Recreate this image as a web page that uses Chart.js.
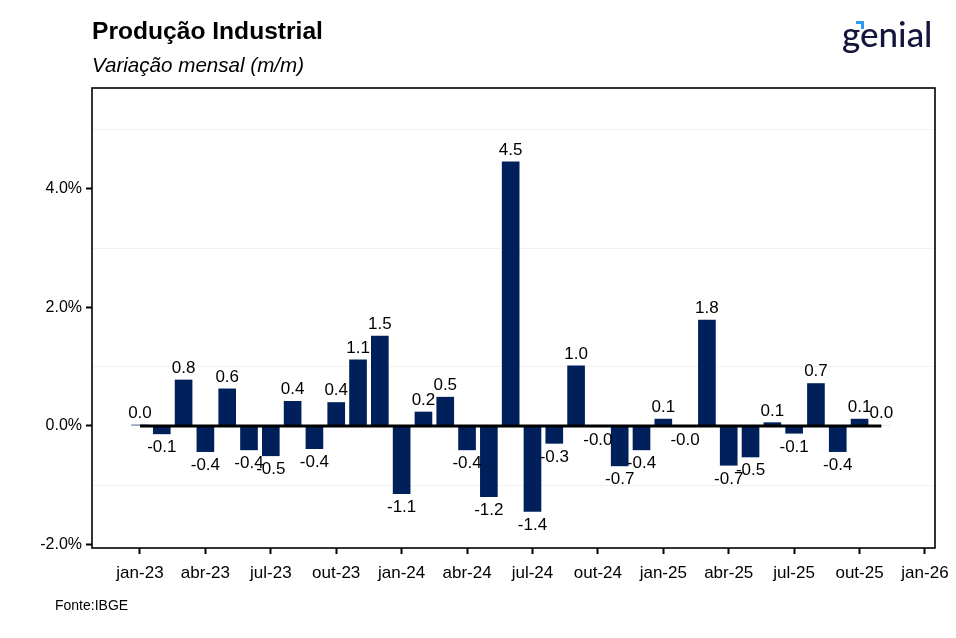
<!DOCTYPE html>
<html>
<head>
<meta charset="utf-8">
<script src="https://cdn.jsdelivr.net/npm/chart.js@4.4.1/dist/chart.umd.min.js"></script>
<style>
  body { margin: 0; background: #fff; }
  #wrap { position: relative; width: 956px; height: 638px; font-family: "Liberation Sans", Arial, sans-serif; }
  #chart { position: absolute; left: 0; top: 0; }
  .title { position: absolute; left: 92px; top: 17px; font-size: 24.6px; font-weight: bold; color: #000; }
  .subtitle { position: absolute; left: 92px; top: 53px; font-size: 20.6px; font-style: italic; color: #000; }
  .source { position: absolute; left: 55px; top: 597px; font-size: 14px; color: #000; }
  .logo { position: absolute; left: 842px; top: 12px; font-family: Lato, "Noto Sans", sans-serif; font-size: 35px; font-weight: 500; color: #14143c; }
  .accent { position: absolute; left: 856px; top: 21px; width: 5px; height: 5px; border-top: 3px solid #2b9cf2; border-right: 3px solid #2b9cf2; }
</style>
</head>
<body>
<div id="wrap">
  <canvas id="chart" width="956" height="638"></canvas>
  <div class="title">Produção Industrial</div>
  <div class="subtitle">Variação mensal (m/m)</div>
  <div class="source">Fonte:IBGE</div>
  <div class="logo">genial</div>
  <div class="accent"></div>
</div>
<script>
// DADOS
const months = ['jan-23', 'fev-23', 'mar-23', 'abr-23', 'mai-23', 'jun-23', 'jul-23', 'ago-23', 'set-23', 'out-23', 'nov-23', 'dez-23',
    'jan-24', 'fev-24', 'mar-24', 'abr-24', 'mai-24', 'jun-24', 'jul-24', 'ago-24', 'set-24', 'out-24', 'nov-24', 'dez-24',
    'jan-25', 'fev-25', 'mar-25', 'abr-25', 'mai-25', 'jun-25', 'jul-25', 'ago-25', 'set-25', 'out-25', 'nov-25'];
const values = [0.02, -0.14, 0.78, -0.44, 0.63, -0.41, -0.51, 0.42, -0.39, 0.40, 1.12, 1.52,
    -1.15, 0.24, 0.49, -0.41, -1.20, 4.46, -1.45, -0.30, 1.02, -0.02, -0.68, -0.41,
    0.12, -0.02, 1.79, -0.67, -0.53, 0.06, -0.13, 0.72, -0.44, 0.12, 0.01];
const tickLabels = ['jan-23', 'abr-23', 'jul-23', 'out-23', 'jan-24', 'abr-24', 'jul-24', 'out-24', 'jan-25', 'abr-25', 'jul-25', 'out-25', 'jan-26'];
const yTicks = [-2, -1, 0, 1, 2, 3, 4, 5];

const tickPos = tickLabels.map((t, i) => i * 3);

Chart.defaults.font.family = '"Liberation Sans", Arial, sans-serif';
Chart.defaults.color = '#000';

// rotulos das barras
const barLabels = {
    id: 'barLabels',
    afterDatasetsDraw(chart) {
        const ctx = chart.ctx;
        const meta = chart.getDatasetMeta(1);
        ctx.save();
        ctx.font = '17px "Liberation Sans", Arial, sans-serif';
        ctx.fillStyle = '#000';
        ctx.textAlign = 'center';
        meta.data.forEach((bar, i) => {
            const v = values[i];
            if (v >= 0) {
                ctx.textBaseline = 'bottom';
                ctx.fillText(v.toFixed(1), bar.x, bar.y - 3);
            } else {
                ctx.textBaseline = 'top';
                ctx.fillText(v.toFixed(1), bar.x, bar.y + 5);
            }
        });
        ctx.restore();
    }
};

// moldura do painel
const panelBorder = {
    id: 'panelBorder',
    afterDraw(chart) {
        const a = chart.chartArea;
        const ctx = chart.ctx;
        ctx.save();
        ctx.strokeStyle = '#000';
        ctx.lineWidth = 1.6;
        ctx.strokeRect(a.left, a.top, a.right - a.left, a.bottom - a.top);
        ctx.restore();
    }
};

const chart = new Chart(document.getElementById('chart'), {
    type: 'bar',
    data: {
        datasets: [{
            type: 'line',
            data: [{x: 0, y: 0}, {x: months.length - 1, y: 0}],
            borderColor: '#000',
            borderWidth: 3,
            pointRadius: 0,
            order: 1
        }, {
            type: 'bar',
            data: values.map((v, i) => ({x: i, y: v})),
            backgroundColor: '#00205b',
            barPercentage: 0.81,
            categoryPercentage: 1,
            order: 2
        }]
    },
    options: {
        responsive: false,
        animation: false,
        layout: { padding: { left: 0, right: 21, top: 88, bottom: 50 } },
        plugins: { legend: { display: false }, tooltip: { enabled: false } },
        scales: {
            x: {
                type: 'linear',
                offset: false,
                min: -2.2,
                max: 36.46,
                afterBuildTicks: (s) => { s.ticks = tickPos.map(v => ({value: v})); },
                afterFit: (s) => { s.height = 40; s.paddingRight = 0; s.paddingLeft = 0; },
                ticks: {
                    font: { size: 17 },
                    padding: 9,
                    maxRotation: 0,
                    autoSkip: false,
                    callback: (v) => tickLabels[tickPos.indexOf(v)]
                },
                grid: { offset: false, drawOnChartArea: false, tickColor: '#000', tickLength: 6, tickWidth: 2 },
                border: { display: false }
            },
            y: {
                min: -2.06,
                max: 5.7,
                afterBuildTicks: (s) => { s.ticks = yTicks.map(v => ({value: v})); },
                afterFit: (s) => { s.width = 92; },
                ticks: {
                    font: { size: 16 },
                    padding: 4,
                    callback: (v) => Math.abs(v) % 2 === 0 ? v.toFixed(1) + '%' : ''
                },
                grid: {
                    color: (c) => Math.abs(c.tick.value) % 2 === 1 ? '#f1f1f1' : 'rgba(0,0,0,0)',
                    tickColor: (c) => Math.abs(c.tick.value) % 2 === 0 ? '#000' : 'rgba(0,0,0,0)',
                    tickLength: 6,
                    tickWidth: 2,
                    lineWidth: 1
                },
                border: { display: false }
            }
        }
    },
    plugins: [barLabels, panelBorder]
});
</script>
</body>
</html>
